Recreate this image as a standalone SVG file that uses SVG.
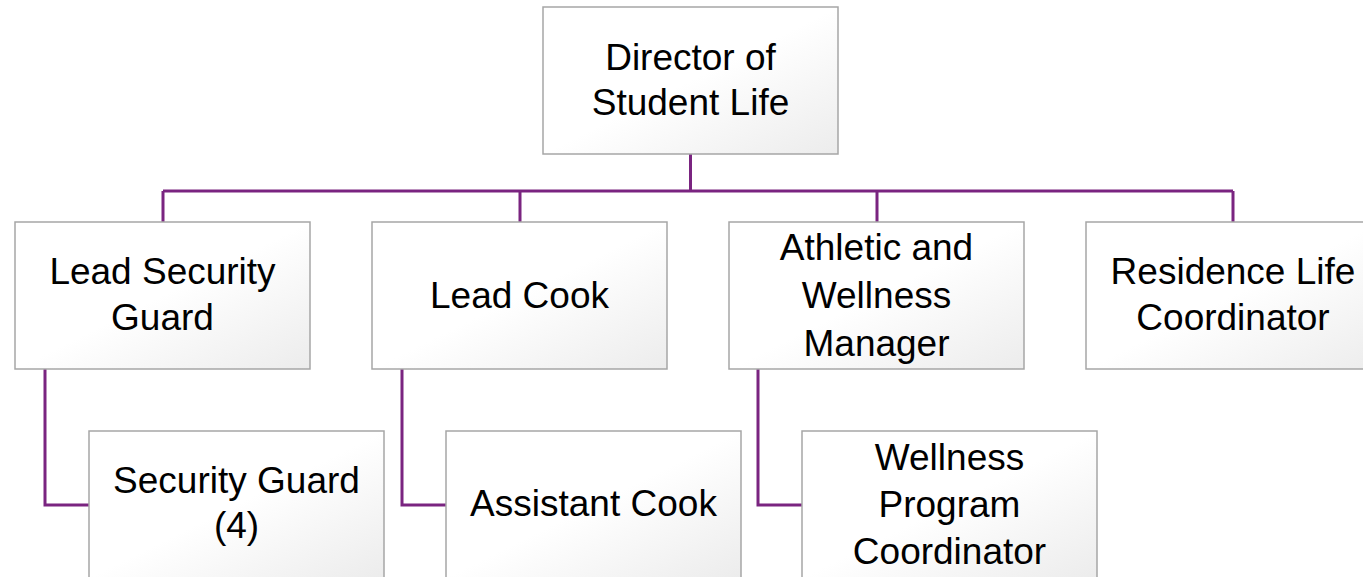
<svg xmlns="http://www.w3.org/2000/svg" width="1363" height="577" viewBox="0 0 1363 577">
<defs>
<linearGradient id="g" x1="0" y1="0" x2="1" y2="1">
<stop offset="0" stop-color="#ffffff"/>
<stop offset="0.5" stop-color="#ffffff"/>
<stop offset="1" stop-color="#ececec"/>
</linearGradient>
<style>
.box{fill:url(#g);stroke:#a6a6a6;stroke-width:1.5}
.t{font-family:"Liberation Sans",Arial,sans-serif;font-size:37px;fill:#000;text-anchor:middle}
.c{fill:none;stroke:#7a2480;stroke-width:3}
</style>
</defs>
<rect width="1363" height="577" fill="#fff"/>
<g id="connectors">
<path class="c" d="M690.5 154V191M163 191H1233M163 191V222M520 191V222M877 191V222M1233 191V222"/>
<path class="c" d="M45 369V505H89"/>
<path class="c" d="M402 369V505H446"/>
<path class="c" d="M758 369V505H802"/>
</g>
<g id="director">
<rect class="box" x="543" y="7" width="295" height="147"/>
<text class="t" x="690.5" y="70">Director of</text>
<text class="t" x="690.5" y="115">Student Life</text>
</g>
<g id="lead-security">
<rect class="box" x="15" y="222" width="295" height="147"/>
<text class="t" x="162.5" y="284">Lead Security</text>
<text class="t" x="162.5" y="330">Guard</text>
</g>
<g id="lead-cook">
<rect class="box" x="372" y="222" width="295" height="147"/>
<text class="t" x="519.5" y="308">Lead Cook</text>
</g>
<g id="athletic">
<rect class="box" x="729" y="222" width="295" height="147"/>
<text class="t" x="876.5" y="260">Athletic and</text>
<text class="t" x="876.5" y="308">Wellness</text>
<text class="t" x="876.5" y="356">Manager</text>
</g>
<g id="residence">
<rect class="box" x="1086" y="222" width="295" height="147"/>
<text class="t" x="1233" y="284">Residence Life</text>
<text class="t" x="1233" y="330">Coordinator</text>
</g>
<g id="security-guard">
<rect class="box" x="89" y="431" width="295" height="147"/>
<text class="t" x="236.5" y="493">Security Guard</text>
<text class="t" x="236.5" y="538">(4)</text>
</g>
<g id="assistant-cook">
<rect class="box" x="446" y="431" width="295" height="147"/>
<text class="t" x="593.5" y="516">Assistant Cook</text>
</g>
<g id="wellness-coordinator">
<rect class="box" x="802" y="431" width="295" height="147"/>
<text class="t" x="949.5" y="470">Wellness</text>
<text class="t" x="949.5" y="517">Program</text>
<text class="t" x="949.5" y="564">Coordinator</text>
</g>
</svg>
